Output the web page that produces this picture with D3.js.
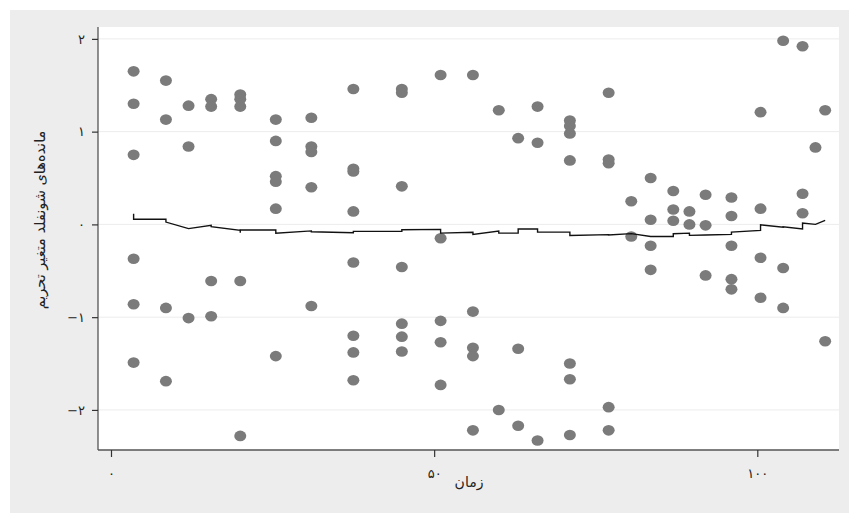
<!DOCTYPE html>
<html>
<head>
<meta charset="utf-8">
<script src="https://cdn.jsdelivr.net/npm/d3@7"></script>
<style>
  html, body { margin: 0; padding: 0; background: #ffffff; }
  svg { display: block; }
  text { font-family: "DejaVu Sans", "Noto Sans", sans-serif; }
</style>
</head>
<body>
<svg id="chart" width="849" height="513"></svg>
<script>
// ---- Data ----
const times = [3.5, 8.5, 12, 15.5, 20, 25.5, 31, 37.5, 45, 51, 56, 60, 63, 66, 71, 77, 80.5, 83.5, 87, 89.5, 92, 96, 100.5, 104, 107, 109, 110.5];
const residuals = [
  [1.65, 1.30, 0.75, -0.37, -0.86, -1.49],
  [1.55, 1.13, -0.90, -1.69],
  [1.28, 0.84, -1.01],
  [1.35, 1.27, -0.61, -0.99],
  [1.40, 1.35, 1.27, -0.61, -2.28],
  [1.13, 0.90, 0.52, 0.46, 0.17, -1.42],
  [1.15, 0.84, 0.78, 0.40, -0.88],
  [1.46, 0.60, 0.57, 0.14, -0.41, -1.20, -1.38, -1.68],
  [1.46, 1.42, 0.41, -0.46, -1.07, -1.21, -1.37],
  [1.61, -0.15, -1.04, -1.27, -1.73],
  [1.61, -0.94, -1.33, -1.42, -2.22],
  [1.23, -2.00],
  [0.93, -1.34, -2.17],
  [1.27, 0.88, -2.33],
  [1.12, 1.06, 0.98, 0.69, -1.50, -1.67, -2.27],
  [1.42, 0.70, 0.66, -1.97, -2.22],
  [0.25, -0.13],
  [0.50, 0.05, -0.23, -0.49],
  [0.36, 0.16, 0.04],
  [0.14, 0.00],
  [0.32, -0.01, -0.55],
  [0.29, 0.09, -0.23, -0.59, -0.70],
  [1.21, 0.17, -0.36, -0.79],
  [1.98, -0.47, -0.90],
  [1.92, 0.33, 0.12],
  [0.83],
  [1.23, -1.26]
];
// smoothed line (with vertical steps at event times)
const lineTimes  = [3.5, 3.5, 8.5, 8.5, 12, 15.5, 15.5, 20, 20, 20, 25.5, 25.5, 31, 31, 37.5, 37.5, 45, 45, 51, 51, 56, 56, 60, 60, 63, 63, 66, 66, 71, 71, 77, 77, 80.5, 83.5, 87, 87, 89.5, 89.5, 92, 96, 96, 100.5, 100.5, 104, 104, 107, 107, 109, 110.5];
const lineValues = [0.115, 0.055, 0.055, 0.025, -0.045, -0.01, -0.025, -0.065, -0.09, -0.06, -0.06, -0.095, -0.07, -0.08, -0.09, -0.075, -0.075, -0.058, -0.054, -0.094, -0.085, -0.108, -0.072, -0.094, -0.094, -0.05, -0.05, -0.083, -0.083, -0.12, -0.11, -0.115, -0.10, -0.13, -0.13, -0.10, -0.094, -0.118, -0.115, -0.108, -0.083, -0.065, -0.004, -0.03, -0.025, -0.05, 0.014, 0.0, 0.043];

const xTicks = [0, 50, 100];
const yTicks = [-2, -1, 0, 1, 2];
const xTitle = "زمان";
const yTitle = "مانده‌های شونفلد متغیر تحریم";

// ---- helpers ----
const faDigits = "۰۱۲۳۴۵۶۷۸۹";
const toFa = v => {
  const s = String(Math.abs(v)).replace(/[0-9]/g, d => faDigits[+d]);
  return (v < 0 ? "−" : "") + s;
};

// ---- layout ----
const svg = d3.select("#chart");
const W = 849, H = 513;
const plot = { left: 98, right: 839, top: 27, bottom: 450 };

svg.append("rect").attr("x", 10).attr("y", 10).attr("width", W - 10).attr("height", H - 10).attr("fill", "#ededed");
svg.append("rect").attr("x", plot.left).attr("y", plot.top)
  .attr("width", plot.right - plot.left).attr("height", plot.bottom - plot.top).attr("fill", "#ffffff");

const x = d3.scaleLinear().domain([-2.01, 112.64]).range([plot.left, plot.right]);
const y = d3.scaleLinear().domain([-2.432, 2.128]).range([plot.bottom, plot.top]);

// grid lines
svg.append("g").selectAll("line").data(yTicks).join("line")
  .attr("x1", plot.left).attr("x2", plot.right)
  .attr("y1", d => y(d)).attr("y2", d => y(d))
  .attr("stroke", "#ececec").attr("stroke-width", 1);

// points
const pts = [];
times.forEach((t, i) => residuals[i].forEach(r => pts.push({ t, r })));
svg.append("g").selectAll("ellipse").data(pts).join("ellipse")
  .attr("cx", d => x(d.t)).attr("cy", d => y(d.r))
  .attr("rx", 6).attr("ry", 5.3)
  .attr("fill", "#7b7b7b");

// smoothed line
const lineData = lineTimes.map((t, i) => [t, lineValues[i]]);
svg.append("path").datum(lineData)
  .attr("d", d3.line().x(d => x(d[0])).y(d => y(d[1])))
  .attr("fill", "none").attr("stroke", "#111").attr("stroke-width", 1.4);

// axes
const yAxis = d3.axisLeft(y).tickValues(yTicks).tickFormat(toFa).tickSize(6).tickSizeOuter(0).tickPadding(7);
const gy = svg.append("g").attr("transform", `translate(${plot.left},0)`).call(yAxis);
const xAxis = d3.axisBottom(x).tickValues(xTicks).tickFormat(toFa).tickSize(7).tickSizeOuter(0).tickPadding(12);
const gx = svg.append("g").attr("transform", `translate(0,${plot.bottom})`).call(xAxis);

[gx, gy].forEach(g => {
  g.select(".domain").attr("stroke", "#555").attr("stroke-width", 1.3);
  g.selectAll(".tick line").attr("stroke", "#333").attr("stroke-width", 1.2);
  g.selectAll(".tick text").attr("fill", "#222").style("font-size", "13px");
});
// extend domain lines to full plot box
gy.select(".domain").attr("d", `M0,${plot.top}V${plot.bottom}`);
gx.select(".domain").attr("d", `M${plot.left},0H${plot.right}`);

// titles
svg.append("text").attr("x", 469).attr("y", 487).attr("text-anchor", "middle")
  .style("font-size", "14px").attr("fill", "#222").text(xTitle);
svg.append("text").attr("transform", "translate(45,220) rotate(-90)").attr("text-anchor", "middle")
  .style("font-size", "14.5px").attr("fill", "#222").text(yTitle);
</script>
</body>
</html>
